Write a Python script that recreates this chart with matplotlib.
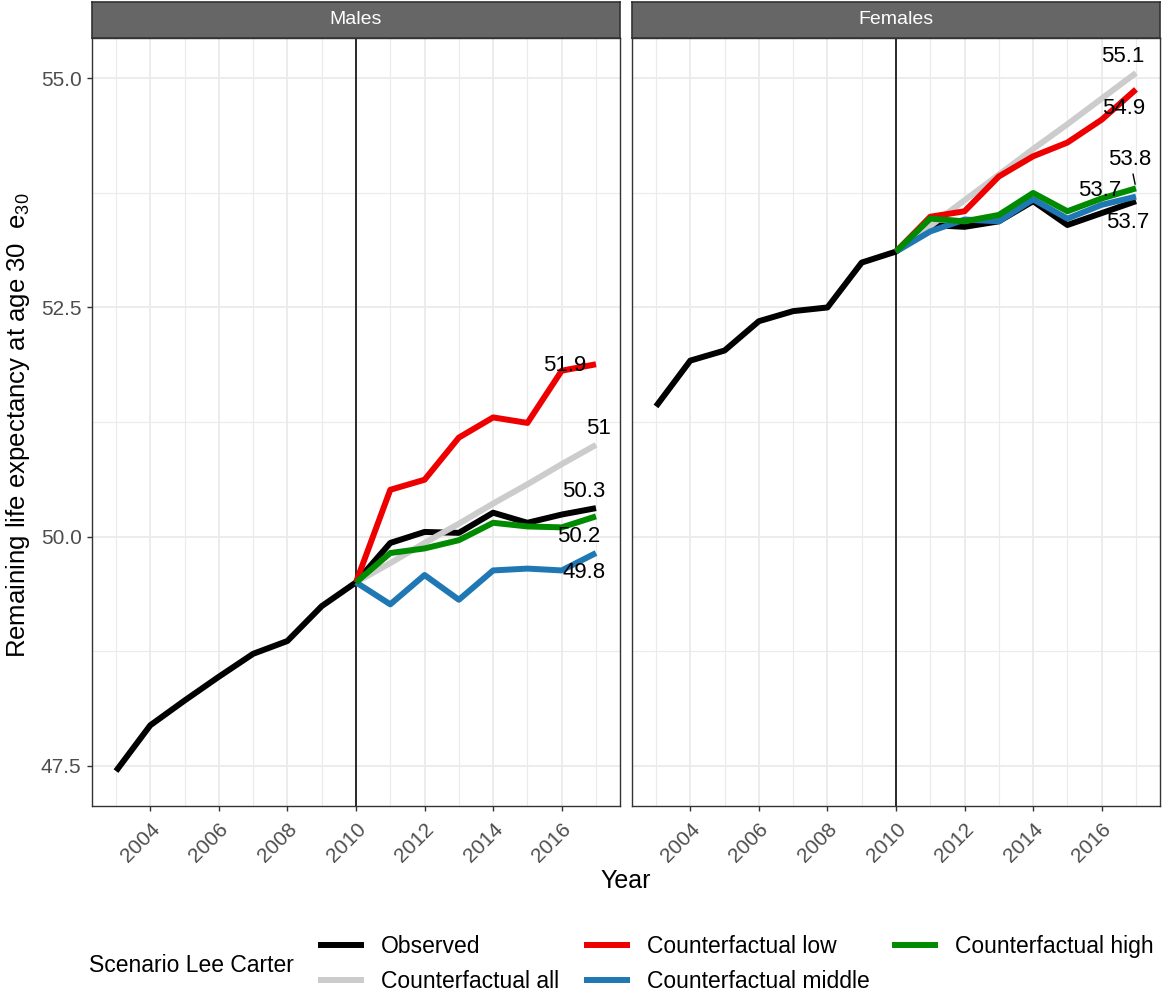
import matplotlib
matplotlib.use('Agg')
import matplotlib.pyplot as plt
from matplotlib.ticker import MultipleLocator, FixedLocator

plt.rcParams['font.family'] = ['Liberation Sans', 'DejaVu Sans']
plt.rcParams['mathtext.fontset'] = 'custom'
plt.rcParams['mathtext.rm'] = 'Liberation Sans'
plt.rcParams['mathtext.it'] = 'Liberation Sans:italic'

# ---------------- data ----------------
panels = ["Males", "Females"]
scenarios = ["Observed", "Counterfactual all", "Counterfactual low",
             "Counterfactual middle", "Counterfactual high"]
years_observed = list(range(2003, 2018))
years_counterfactual = list(range(2010, 2018))

males_observed = [47.44, 47.94, 48.21, 48.47, 48.72, 48.86, 49.24, 49.50,
                  49.93, 50.05, 50.04, 50.26, 50.15, 50.24, 50.31]
males_cf_all = [49.50, 49.71, 49.93, 50.14, 50.36, 50.57, 50.79, 51.00]
males_cf_low = [49.50, 50.51, 50.62, 51.08, 51.30, 51.24, 51.81, 51.88]
males_cf_middle = [49.50, 49.26, 49.58, 49.31, 49.63, 49.65, 49.63, 49.82]
males_cf_high = [49.50, 49.82, 49.87, 49.96, 50.15, 50.11, 50.10, 50.22]

females_observed = [51.42, 51.92, 52.03, 52.35, 52.46, 52.50, 52.99, 53.11,
                    53.40, 53.38, 53.44, 53.66, 53.40, 53.53, 53.66]
females_cf_all = [53.11, 53.39, 53.67, 53.95, 54.23, 54.50, 54.78, 55.06]
females_cf_low = [53.11, 53.49, 53.55, 53.93, 54.15, 54.30, 54.55, 54.88]
females_cf_middle = [53.11, 53.33, 53.46, 53.44, 53.68, 53.47, 53.62, 53.71]
females_cf_high = [53.11, 53.47, 53.44, 53.51, 53.75, 53.55, 53.69, 53.80]

intervention_year = 2010
x_ticks = [2004, 2006, 2008, 2010, 2012, 2014, 2016]
y_ticks = [47.5, 50.0, 52.5, 55.0]

# ---------------- style ----------------
colors = {"Observed": "#000000", "Counterfactual all": "#CCCCCC",
          "Counterfactual low": "#EE0000", "Counterfactual middle": "#1F78B4",
          "Counterfactual high": "#008B00"}
# label offsets (pixels) from each series end point, per panel
label_offsets = {
    "Males": {"Observed": (-12, 17), "Counterfactual all": (2, 16),
              "Counterfactual low": (-31, -1), "Counterfactual middle": (-12, -19),
              "Counterfactual high": (-17, -20)},
    "Females": {"Observed": (-8, -21), "Counterfactual all": (-13, 16),
                "Counterfactual low": (-12, -19), "Counterfactual middle": (-36, 6),
                "Counterfactual high": (-6, 29)},
}
segment_labels = {("Females", "Counterfactual high")}

W, H = 1166, 992
fig = plt.figure(figsize=(W / 100, H / 100), dpi=100)

series = {
    "Males": {"Observed": (years_observed, males_observed),
              "Counterfactual all": (years_counterfactual, males_cf_all),
              "Counterfactual low": (years_counterfactual, males_cf_low),
              "Counterfactual middle": (years_counterfactual, males_cf_middle),
              "Counterfactual high": (years_counterfactual, males_cf_high)},
    "Females": {"Observed": (years_observed, females_observed),
                "Counterfactual all": (years_counterfactual, females_cf_all),
                "Counterfactual low": (years_counterfactual, females_cf_low),
                "Counterfactual middle": (years_counterfactual, females_cf_middle),
                "Counterfactual high": (years_counterfactual, females_cf_high)},
}

all_vals = [v for p in series.values() for (_, ys) in p.values() for v in ys]
ymin, ymax = min(all_vals), max(all_vals)
yr = ymax - ymin
xmin, xmax = min(years_observed), max(years_observed)
xr = xmax - xmin

panel_left_px = [92, 632]
panel_w_px = 528
panel_top_px, panel_bot_px = 38, 806
strip_top_px = 2

handles = {}
for i, panel in enumerate(panels):
    l = panel_left_px[i] / W
    ax = fig.add_axes([l, 1 - panel_bot_px / H, panel_w_px / W,
                       (panel_bot_px - panel_top_px) / H])
    ax.set_xlim(xmin - 0.05 * xr, xmax + 0.05 * xr)
    ax.set_ylim(ymin - 0.05 * yr, ymax + 0.05 * yr)
    ax.xaxis.set_major_locator(FixedLocator(x_ticks))
    ax.xaxis.set_minor_locator(MultipleLocator(1))
    ax.yaxis.set_major_locator(FixedLocator(y_ticks))
    ax.yaxis.set_minor_locator(MultipleLocator(1.25))
    ax.grid(which='major', color='#EBEBEB', lw=1.3, zorder=0)
    ax.grid(which='minor', color='#EBEBEB', lw=0.8, zorder=0)
    ax.set_axisbelow(True)
    for s in ax.spines.values():
        s.set_color('#333333')
        s.set_linewidth(1.0)
    ax.tick_params(which='major', length=3.5, width=1.0, color='#333333',
                   labelcolor='#4D4D4D', labelsize=15, pad=4)
    ax.tick_params(axis='x', which='major', pad=6)
    ax.tick_params(which='minor', length=0)
    ax.set_xticklabels([str(t) for t in x_ticks], rotation=45, ha='right',
                       va='top', rotation_mode='anchor')
    if i == 0:
        ax.set_yticklabels([f"{t:.1f}" for t in y_ticks])
    else:
        ax.set_yticklabels([])
        ax.tick_params(axis='y', which='major', length=0)

    ax.axvline(intervention_year, color='#1A1A1A', lw=1.3, zorder=1)

    for sc in scenarios:
        xs, ys = series[panel][sc]
        ln, = ax.plot(xs, ys, color=colors[sc], lw=4.3, solid_capstyle='butt',
                      solid_joinstyle='round', zorder=2, label=sc)
        handles[sc] = ln
    for sc in scenarios:
        xs, ys = series[panel][sc]
        txt = f"{round(ys[-1], 1):g}"
        dx, dy = label_offsets[panel][sc]
        kw = {}
        if (panel, sc) in segment_labels:
            kw['arrowprops'] = dict(arrowstyle='-', color='black', lw=1.0,
                                    shrinkA=1, shrinkB=3)
        ax.annotate(txt, xy=(xs[-1], ys[-1]), xytext=(dx, dy),
                    textcoords='offset pixels', ha='center', va='center',
                    fontsize=16, color='black', zorder=5, **kw)

    # strip
    sax = fig.add_axes([l, 1 - panel_top_px / H, panel_w_px / W,
                        (panel_top_px - strip_top_px) / H])
    sax.set_facecolor('#666666')
    sax.set_xticks([])
    sax.set_yticks([])
    for s in sax.spines.values():
        s.set_color('#333333')
        s.set_linewidth(1.2)
    sax.text(0.5, 0.5, panel, color='white', fontsize=14, ha='center',
             va='center', transform=sax.transAxes)

fig.text(18 / W, 1 - 425 / H,
         r"Remaining life expectancy at age 30  $\mathregular{e_{30}}$",
         rotation=90, ha='center', va='center', fontsize=18.5)
fig.text(626 / W, 1 - 881 / H, "Year", ha='center', va='center', fontsize=18)

# legend
fig.text(89 / W, 1 - 966 / H, "Scenario Lee Carter", ha='left', va='center',
         fontsize=16.5)
legend_cols = [(["Observed", "Counterfactual all"], 318, 964),
               (["Counterfactual low", "Counterfactual middle"], 584, 964),
               (["Counterfactual high"], 892, 947)]
for names, xpx, ypx in legend_cols:
    lg = fig.legend([handles[n] for n in names], names, loc='center left',
                    bbox_to_anchor=(xpx / W, 1 - ypx / H), frameon=False,
                    fontsize=16.5, handlelength=2.0, handletextpad=0.75,
                    labelspacing=0.5, borderpad=0, borderaxespad=0)

fig.savefig('out.png', dpi=100)
